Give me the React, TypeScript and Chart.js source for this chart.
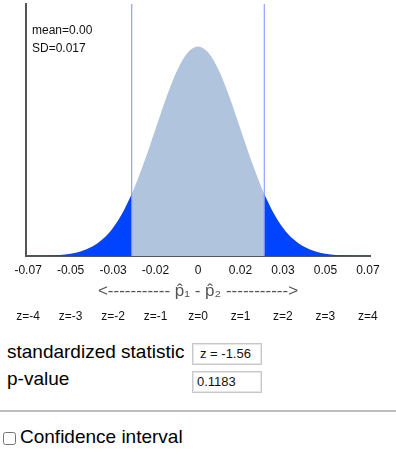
import React, { useEffect, useRef } from "react";
import { Chart, registerables } from "chart.js";

Chart.register(...registerables);

// ---- data ----
const zTicks = [-4, -3, -2, -1, 0, 1, 2, 3, 4];
const diffLabels = ["-0.07", "-0.05", "-0.03", "-0.02", "0", "0.02", "0.03", "0.05", "0.07"];
const zLabels = ["z=-4", "z=-3", "z=-2", "z=-1", "z=0", "z=1", "z=2", "z=3", "z=4"];
const curveZ = [
  -4, -3.75, -3.5, -3.25, -3, -2.75, -2.5, -2.25, -2, -1.75, -1.56, -1.5, -1.25, -1, -0.75, -0.5, -0.25,
  0, 0.25, 0.5, 0.75, 1, 1.25, 1.5, 1.56, 1.75, 2, 2.25, 2.5, 2.75, 3, 3.25, 3.5, 3.75, 4,
];
const curveDensity = [
  0.00013, 0.00035, 0.00087, 0.00203, 0.00443, 0.00909, 0.01753, 0.03174, 0.05399, 0.08628, 0.1182, 0.12952,
  0.18265, 0.24197, 0.30114, 0.35207, 0.38667, 0.39894, 0.38667, 0.35207, 0.30114, 0.24197, 0.18265, 0.12952,
  0.1182, 0.08628, 0.05399, 0.03174, 0.01753, 0.00909, 0.00443, 0.00203, 0.00087, 0.00035, 0.00013,
];
const zStat = -1.56;
const xMin = -4.05;
const xMax = 4.05;
const yMax = 0.48;
const axisTitle = "<----------- p\u0302\u2081 - p\u0302\u2082 ----------->";
const meanText = "mean=0.00";
const sdText = "SD=0.017";
const statLabel = "standardized statistic";
const statText = "z = -1.56";
const pLabel = "p-value";
const pValueText = "0.1183";
const ciLabel = "Confidence interval";

const FONT = '"Liberation Sans", Arial, Helvetica, sans-serif';

const TAIL = "#0044ff";
const CENTER = "#b0c4de";
const VLINE = "#7b8cff";

export default function App() {
  const ref = useRef<HTMLCanvasElement | null>(null);

  useEffect(() => {
    if (!ref.current) return;
    const pts = curveZ.map((z, i) => ({ x: z, y: curveDensity[i] }));
    const crit = Math.abs(zStat);
    const left = pts.filter((p) => p.x <= -crit + 1e-9);
    const mid = pts.filter((p) => p.x >= -crit - 1e-9 && p.x <= crit + 1e-9);
    const right = pts.filter((p) => p.x >= crit - 1e-9);

    const area = (data: any[], color: string) => ({
      data,
      borderWidth: 0,
      borderColor: color,
      backgroundColor: color,
      fill: "origin",
      pointRadius: 0,
      cubicInterpolationMode: "monotone" as const,
    });
    const vline = (x: number) => ({
      data: [
        { x, y: 0 },
        { x, y: yMax },
      ],
      borderColor: VLINE,
      borderWidth: 1,
      fill: false,
      pointRadius: 0,
    });

    const textPlugin = {
      id: "meanText",
      afterDraw(chart: any) {
        const ctx = chart.ctx;
        ctx.save();
        ctx.font = `12px ${FONT}`;
        ctx.fillStyle = "#111";
        ctx.textBaseline = "middle";
        ctx.textAlign = "left";
        ctx.fillText(meanText, chart.chartArea.left + 6, 31);
        ctx.fillText(sdText, chart.chartArea.left + 6, 49);
        ctx.restore();
      },
    };

    const setTicks = (s: any) => {
      s.ticks = zTicks.map((v) => ({ value: v }));
    };

    const chart = new Chart(ref.current, {
      type: "line",
      data: {
        datasets: [vline(zStat), vline(-zStat), area(left, TAIL), area(mid, CENTER), area(right, TAIL)] as any,
      },
      options: {
        animation: false,
        responsive: false,
        events: [],
        layout: { padding: { left: 26, right: 26, top: 4, bottom: 0 } },
        plugins: { legend: { display: false }, tooltip: { enabled: false } },
        scales: {
          x: {
            type: "linear",
            position: "bottom",
            min: xMin,
            max: xMax,
            weight: 0,
            z: 1,
            grid: { display: false, drawTicks: false },
            border: { display: true, color: "#555", width: 2 },
            afterBuildTicks: setTicks,
            afterFit: (s: any) => {
              s.height = 46;
            },
            ticks: {
              autoSkip: false,
              maxRotation: 0,
              padding: 7,
              color: "#111",
              font: { size: 12, family: FONT },
              callback: (_v: any, i: number) => diffLabels[i],
            },
            title: {
              display: true,
              text: axisTitle,
              color: "#555",
              font: { size: 17, family: FONT },
              padding: { top: 0, bottom: 0 },
            },
          },
          x2: {
            type: "linear",
            position: "bottom",
            min: xMin,
            max: xMax,
            weight: 1,
            grid: { display: false, drawTicks: false },
            border: { display: false },
            afterBuildTicks: setTicks,
            afterFit: (s: any) => {
              s.height = 28;
            },
            ticks: {
              autoSkip: false,
              maxRotation: 0,
              padding: 7,
              color: "#111",
              font: { size: 12, family: FONT },
              callback: (_v: any, i: number) => zLabels[i],
            },
          },
          y: {
            type: "linear",
            min: 0,
            max: yMax,
            z: 1,
            grid: { display: false, drawTicks: false },
            border: { display: true, color: "#555", width: 2 },
            ticks: { display: false },
            afterFit: (s: any) => {
              s.width = 0;
            },
          },
        },
      } as any,
      plugins: [textPlugin],
    });
    return () => chart.destroy();
  }, []);

  const boxStyle: React.CSSProperties = {
    position: "absolute",
    left: 192,
    width: 70,
    height: 22,
    boxSizing: "border-box",
    border: "1px solid #c8c8c8",
    boxShadow: "inset 0 0 0 1px #e6e6e6",
    fontSize: 13,
    lineHeight: "20px",
    paddingLeft: 4,
    color: "#111",
    background: "#fff",
  };
  const labelStyle: React.CSSProperties = {
    position: "absolute",
    left: 7,
    fontSize: 19,
    lineHeight: "22px",
    color: "#000",
    whiteSpace: "nowrap",
  };

  return (
    <div
      style={{
        position: "absolute",
        left: 0,
        top: 0,
        width: 396,
        height: 456,
        background: "#fff",
        fontFamily: FONT,
        overflow: "hidden",
      }}
    >
      <canvas ref={ref} width={396} height={330} style={{ position: "absolute", left: 0, top: 0 }} />
      <div style={{ ...labelStyle, top: 341 }}>{statLabel}</div>
      <div style={{ ...boxStyle, top: 343, paddingLeft: 7 }}>{statText}</div>
      <div style={{ ...labelStyle, top: 368 }}>{pLabel}</div>
      <div style={{ ...boxStyle, top: 371 }}>{pValueText}</div>
      <div style={{ position: "absolute", left: 0, top: 410, width: 396, height: 2, background: "#bdbdbd" }} />
      <input
        type="checkbox"
        readOnly
        style={{ position: "absolute", left: 3, top: 432, width: 13, height: 13, margin: 0 }}
      />
      <div style={{ ...labelStyle, left: 20, top: 426 }}>{ciLabel}</div>
    </div>
  );
}
